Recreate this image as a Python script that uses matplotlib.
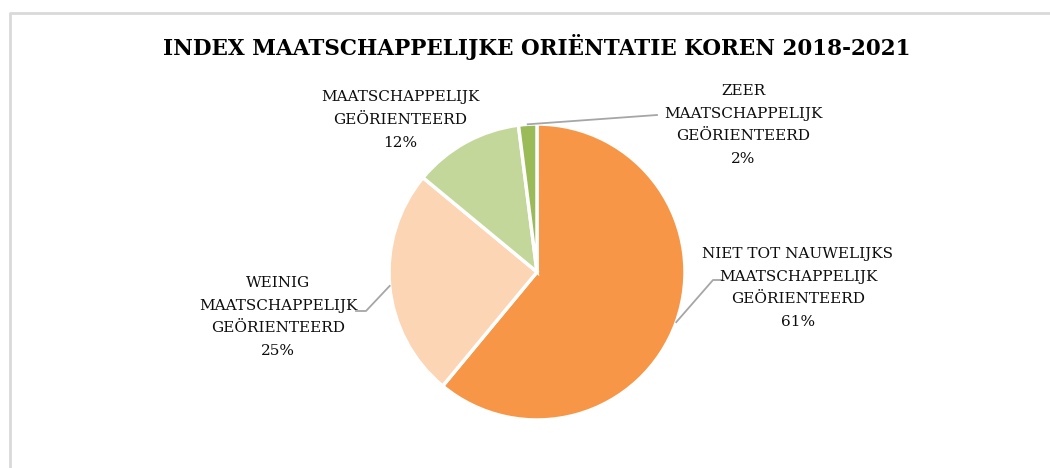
import numpy as np
import matplotlib
matplotlib.use("Agg")
import matplotlib.pyplot as plt

# data
categories = ["NIET TOT NAUWELIJKS\nMAATSCHAPPELIJK\nGEÖRIENTEERD",
              "WEINIG\nMAATSCHAPPELIJK\nGEÖRIENTEERD",
              "MAATSCHAPPELIJK\nGEÖRIENTEERD",
              "ZEER\nMAATSCHAPPELIJK\nGEÖRIENTEERD"]
percentages = [61, 25, 12, 2]
colors = ["#F79646", "#FCD5B5", "#C4D79B", "#9BBB59"]
title = "INDEX MAATSCHAPPELIJKE ORIËNTATIE KOREN 2018-2021"

W, H = 1050, 468
fig = plt.figure(figsize=(W / 100, H / 100), dpi=100)
ax = fig.add_axes([0, 0, 1, 1])

# pixel y (from top) -> data y
def py(y):
    return H - y

cx, cy, r = 537, py(272), 148
wedges, _ = ax.pie(percentages, colors=colors, startangle=90, counterclock=False,
                   center=(cx, cy), radius=r, frame=True,
                   wedgeprops=dict(edgecolor="white", linewidth=2.5))
ax.set_xlim(0, W)
ax.set_ylim(0, H)
ax.set_aspect("equal")
ax.axis("off")

# chart border (left and top only visible)
ax.plot([9.5, 9.5, W + 5], [-5, py(12.5), py(12.5)], color="#d9d9d9", lw=2,
        clip_on=False)

ax.text(537, py(47), title, ha="center", va="center", fontsize=15.5,
        fontweight="bold", family="DejaVu Serif", color="black")

# label centres and leader elbows in pixels
label_pos = [(798, 288), (278, 317), (400, 120), (743, 125)]
elbows = [[(713, 280), (722, 280)], [(366, 311), (356, 311)], None,
          [(657, 115)]]

for w, pct, cat, (lx, ly), elb in zip(wedges, percentages, categories,
                                      label_pos, elbows):
    ax.text(lx, py(ly), f"{cat}\n{pct}%", ha="center", va="center",
            fontsize=11, family="DejaVu Serif", color="#0d0d0d",
            linespacing=1.78)
    if elb is None:
        continue
    mid = np.deg2rad((w.theta1 + w.theta2) / 2)
    xs = [cx + r * np.cos(mid)] + [p[0] for p in elb]
    ys = [cy + r * np.sin(mid)] + [py(p[1]) for p in elb]
    ax.plot(xs, ys, color="#a6a6a6", lw=1.3)

fig.savefig("out.png", dpi=100, facecolor="white")
